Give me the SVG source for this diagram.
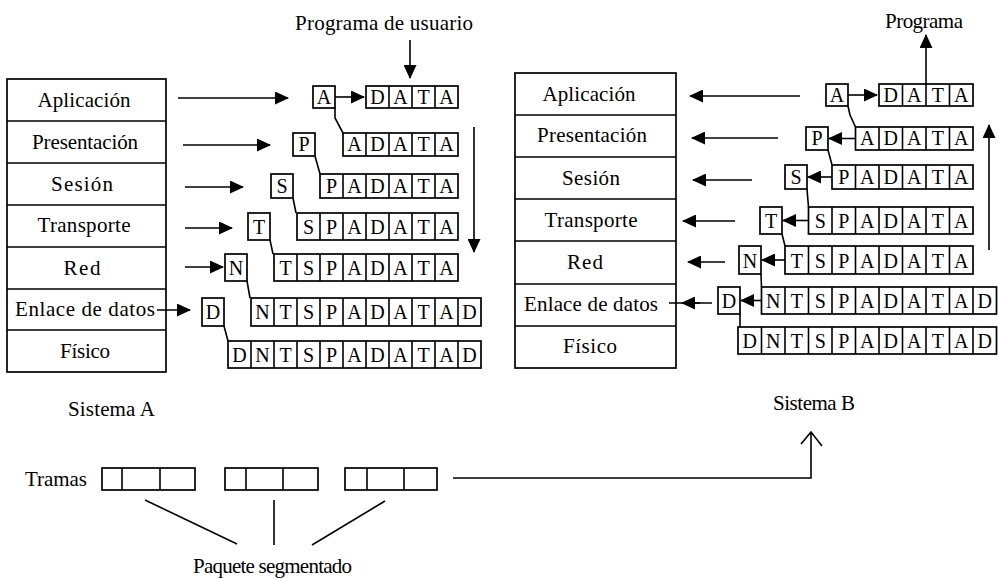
<svg xmlns="http://www.w3.org/2000/svg" width="999" height="578" viewBox="0 0 999 578">
<defs>
<style>
.t{font-family:"Liberation Serif","Times New Roman",serif;font-size:21px;fill:#000}
.c{font-family:"Liberation Serif","Times New Roman",serif;font-size:20px;fill:#000;text-anchor:middle}
.m{text-anchor:middle}
.box{fill:#fff;stroke:#000;stroke-width:1.7}
.ln{fill:none;stroke:#000;stroke-width:1.6}
.ar{fill:none;stroke:#000;stroke-width:1.6;marker-end:url(#ah)}
</style>
<marker id="ah" viewBox="0 0 14 13" refX="13" refY="6.5" markerWidth="14" markerHeight="13" markerUnits="userSpaceOnUse" orient="auto"><path d="M0,0 L14,6.5 L0,13 z" fill="#000"/></marker>
</defs>
<rect width="999" height="578" fill="#fff"/>

<!-- Sistema A layer stack -->
<g id="stackA">
<rect class="box" x="7" y="79" width="159" height="293"/>
<path class="ln" d="M7,121H166M7,163H166M7,205H166M7,247H166M7,289H166M7,330H166"/>
<text class="t m" x="84" y="107" textLength="93">Aplicación</text>
<text class="t m" x="85" y="149" textLength="106">Presentación</text>
<text class="t m" x="82" y="191" textLength="62">Sesión</text>
<text class="t m" x="84" y="232" textLength="93">Transporte</text>
<text class="t m" x="82" y="275" textLength="37">Red</text>
<text class="t m" x="85" y="316" textLength="140">Enlace de datos</text>
<text class="t m" x="85" y="358" textLength="50">Físico</text>
</g>

<!-- Sistema B layer stack -->
<g id="stackB">
<rect class="box" x="515" y="73" width="161" height="295"/>
<path class="ln" d="M515,115H676M515,157H676M515,199H676M515,241H676M515,284H676M515,326H676"/>
<text class="t m" x="589" y="101" textLength="93">Aplicación</text>
<text class="t m" x="592" y="142" textLength="110">Presentación</text>
<text class="t m" x="591" y="185" textLength="58">Sesión</text>
<text class="t m" x="591" y="227" textLength="93">Transporte</text>
<text class="t m" x="585" y="269" textLength="36">Red</text>
<text class="t m" x="591" y="311" textLength="134">Enlace de datos</text>
<text class="t m" x="590" y="353" textLength="54">Físico</text>
</g>

<!-- Sistema A packets -->
<g id="pktA">
<g id="a1"><rect class="box" x="313" y="86" width="22" height="22"/><text class="c" x="324" y="104">A</text>
<rect class="box" x="366" y="86" width="92" height="22"/><path class="ln" d="M389,86V108M412,86V108M435,86V108"/>
<text class="c" x="377.5 400.5 423.5 446.5" y="104">DATA</text></g>
<g id="a2"><rect class="box" x="293" y="133" width="22" height="23"/><text class="c" x="304" y="151">P</text>
<rect class="box" x="343" y="133" width="115" height="23"/><path class="ln" d="M366,133V156M389,133V156M412,133V156M435,133V156"/>
<text class="c" x="354.5 377.5 400.5 423.5 446.5" y="151">ADATA</text></g>
<g id="a3"><rect class="box" x="271" y="174" width="22" height="24"/><text class="c" x="282" y="193">S</text>
<rect class="box" x="320" y="174" width="138" height="24"/><path class="ln" d="M343,174V198M366,174V198M389,174V198M412,174V198M435,174V198"/>
<text class="c" x="331.5 354.5 377.5 400.5 423.5 446.5" y="193">PADATA</text></g>
<g id="a4"><rect class="box" x="248" y="213" width="22" height="27"/><text class="c" x="259" y="234">T</text>
<rect class="box" x="297" y="213" width="161" height="27"/><path class="ln" d="M320,213V240M343,213V240M366,213V240M389,213V240M412,213V240M435,213V240"/>
<text class="c" x="308.5 331.5 354.5 377.5 400.5 423.5 446.5" y="234">SPADATA</text></g>
<g id="a5"><rect class="box" x="225" y="254" width="22" height="27"/><text class="c" x="236" y="275">N</text>
<rect class="box" x="274" y="254" width="184" height="27"/><path class="ln" d="M297,254V281M320,254V281M343,254V281M366,254V281M389,254V281M412,254V281M435,254V281"/>
<text class="c" x="285.5 308.5 331.5 354.5 377.5 400.5 423.5 446.5" y="275">TSPADATA</text></g>
<g id="a6"><rect class="box" x="202" y="298" width="22" height="28"/><text class="c" x="213" y="319">D</text>
<rect class="box" x="251" y="298" width="230" height="28"/><path class="ln" d="M274,298V326M297,298V326M320,298V326M343,298V326M366,298V326M389,298V326M412,298V326M435,298V326M458,298V326"/>
<text class="c" x="262.5 285.5 308.5 331.5 354.5 377.5 400.5 423.5 446.5 469.5" y="319">NTSPADATAD</text></g>
<g id="a7"><rect class="box" x="228" y="341" width="253" height="27"/><path class="ln" d="M251,341V368M274,341V368M297,341V368M320,341V368M343,341V368M366,341V368M389,341V368M412,341V368M435,341V368M458,341V368"/>
<text class="c" x="239.5 262.5 285.5 308.5 331.5 354.5 377.5 400.5 423.5 446.5 469.5" y="362">DNTSPADATAD</text></g>
</g>

<!-- Sistema B packets -->
<g id="pktB">
<g id="b1"><rect class="box" x="826" y="84" width="22" height="22"/><text class="c" x="837" y="102">A</text>
<rect class="box" x="879" y="84" width="94" height="22"/><path class="ln" d="M902.5,84V106M926,84V106M949.5,84V106"/>
<text class="c" x="890.75 914.25 937.75 961.25" y="102">DATA</text></g>
<g id="b2"><rect class="box" x="806" y="127" width="22" height="23"/><text class="c" x="817" y="145">P</text>
<rect class="box" x="855.5" y="127" width="117.5" height="23"/><path class="ln" d="M879,127V150M902.5,127V150M926,127V150M949.5,127V150"/>
<text class="c" x="867.25 890.75 914.25 937.75 961.25" y="145">ADATA</text></g>
<g id="b3"><rect class="box" x="785" y="165" width="22" height="24"/><text class="c" x="796" y="184">S</text>
<rect class="box" x="832" y="165" width="141" height="24"/><path class="ln" d="M855.5,165V189M879,165V189M902.5,165V189M926,165V189M949.5,165V189"/>
<text class="c" x="843.75 867.25 890.75 914.25 937.75 961.25" y="184">PADATA</text></g>
<g id="b4"><rect class="box" x="760" y="207" width="22" height="27"/><text class="c" x="771" y="228">T</text>
<rect class="box" x="808.5" y="207" width="164.5" height="27"/><path class="ln" d="M832,207V234M855.5,207V234M879,207V234M902.5,207V234M926,207V234M949.5,207V234"/>
<text class="c" x="820.25 843.75 867.25 890.75 914.25 937.75 961.25" y="228">SPADATA</text></g>
<g id="b5"><rect class="box" x="739" y="246" width="22" height="28"/><text class="c" x="750" y="268">N</text>
<rect class="box" x="785" y="246" width="188" height="28"/><path class="ln" d="M808.5,246V274M832,246V274M855.5,246V274M879,246V274M902.5,246V274M926,246V274M949.5,246V274"/>
<text class="c" x="796.75 820.25 843.75 867.25 890.75 914.25 937.75 961.25" y="268">TSPADATA</text></g>
<g id="b6"><rect class="box" x="718" y="287" width="22" height="27"/><text class="c" x="729" y="308">D</text>
<rect class="box" x="761.5" y="287" width="235" height="27"/><path class="ln" d="M785,287V314M808.5,287V314M832,287V314M855.5,287V314M879,287V314M902.5,287V314M926,287V314M949.5,287V314M973,287V314"/>
<text class="c" x="773.25 796.75 820.25 843.75 867.25 890.75 914.25 937.75 961.25 984.75" y="308">NTSPADATAD</text></g>
<g id="b7"><rect class="box" x="738" y="327" width="258.5" height="27"/><path class="ln" d="M761.5,327V354M785,327V354M808.5,327V354M832,327V354M855.5,327V354M879,327V354M902.5,327V354M926,327V354M949.5,327V354M973,327V354"/>
<text class="c" x="749.75 773.25 796.75 820.25 843.75 867.25 890.75 914.25 937.75 961.25 984.75" y="348">DNTSPADATAD</text></g>
</g>

<!-- Frames -->
<g id="tramas">
<text class="t" x="25" y="486" textLength="62">Tramas</text>
<rect class="box" x="102" y="468" width="93" height="22"/><path class="ln" d="M122,468V490M160,468V490"/>
<rect class="box" x="225" y="468" width="93" height="22"/><path class="ln" d="M246,468V490M283,468V490"/>
<rect class="box" x="345" y="468" width="92" height="22"/><path class="ln" d="M367,468V490M404,468V490"/>
</g>

<g id="labels">
<text class="t" x="295" y="30" textLength="178">Programa de usuario</text>
<text class="t" x="885" y="28" textLength="78">Programa</text>
<text class="t" x="68" y="416" textLength="87">Sistema A</text>
<text class="t" x="773" y="410" textLength="82">Sistema B</text>
<text class="t" x="193" y="573" textLength="159">Paquete segmentado</text>
</g>

<g id="connectors">
<!-- A side layer arrows -->
<line class="ar" x1="178" y1="98" x2="288" y2="98"/>
<line class="ar" x1="183" y1="145" x2="270" y2="145"/>
<line class="ar" x1="185" y1="187" x2="243" y2="187"/>
<line class="ar" x1="185" y1="228" x2="232" y2="228"/>
<line class="ar" x1="185" y1="267" x2="223" y2="267"/>
<line class="ar" x1="157" y1="310" x2="190" y2="310"/>
<line class="ar" x1="335" y1="97" x2="364" y2="97"/>
<line class="ar" x1="410" y1="40" x2="410" y2="78"/>
<line class="ar" x1="474" y1="127" x2="474" y2="252"/>
<path class="ln" d="M335,108L335,118L343,133M315,156L320,174M293,198L296,213M270,240L273,254M247,281L250,298M224,326L228,341"/>
<!-- B side layer arrows -->
<line class="ar" x1="800" y1="96" x2="690" y2="96"/>
<line class="ar" x1="778" y1="138" x2="692" y2="138"/>
<line class="ar" x1="752" y1="180" x2="693" y2="180"/>
<line class="ar" x1="735" y1="221" x2="683" y2="221"/>
<line class="ar" x1="725" y1="262" x2="688" y2="262"/>
<path class="ln" d="M669,303H712"/>
<line class="ar" x1="700" y1="303" x2="682" y2="303"/>
<line class="ar" x1="848" y1="95" x2="877" y2="95"/>
<line class="ar" x1="855.5" y1="138.5" x2="829" y2="138.5"/>
<line class="ar" x1="832" y1="177" x2="808" y2="177"/>
<line class="ar" x1="808.5" y1="220.5" x2="783" y2="220.5"/>
<line class="ar" x1="785" y1="260" x2="762" y2="260"/>
<line class="ar" x1="761.5" y1="300.5" x2="741" y2="300.5"/>
<line class="ar" x1="926" y1="84" x2="926" y2="35"/>
<line class="ar" x1="989" y1="250" x2="989" y2="125"/>
<path class="ln" d="M848,106L850,115L855.5,127M828,150L832,165M807,189L808.5,207M782,234L785,246M761,274L761.5,287M740,314L740,327"/>
<!-- frames -->
<path class="ln" d="M453,478H811V432M801,444L811,432L822,446"/>
<path class="ln" d="M145,500L237,544M274,500V545M385,501L312,545"/>
</g>
</svg>
